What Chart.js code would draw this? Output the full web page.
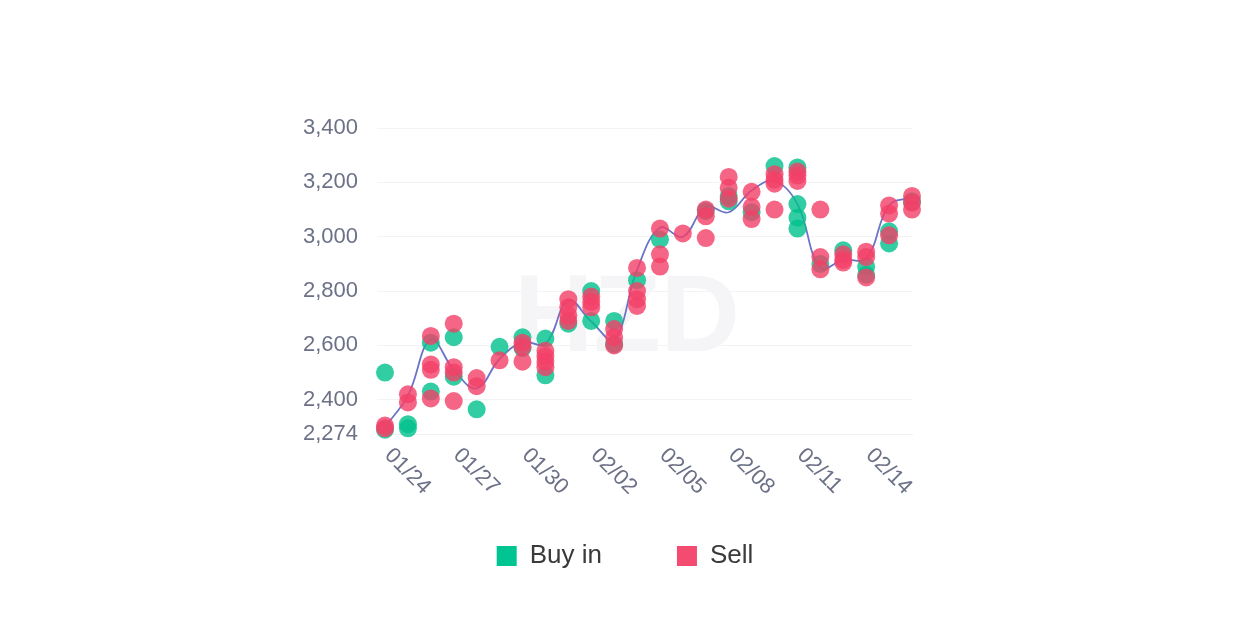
<!DOCTYPE html>
<html>
<head>
<meta charset="utf-8">
<title>Buy in / Sell</title>
<script src="https://cdn.jsdelivr.net/npm/chart.js@4.4.1/dist/chart.umd.min.js"></script>
<style>
  html, body { margin: 0; padding: 0; background: #fff; }
  .chart__container { width: 1254px; height: 641px; position: relative; }
</style>
</head>
<body>
<div class="chart__container"><canvas id="chart__1"></canvas></div>
<script>
"use strict";

// ** Data
const dates = [
  "01/24", "01/25", "01/26", "01/27", "01/28", "01/29", "01/30", "01/31",
  "02/01", "02/02", "02/03", "02/04", "02/05", "02/06", "02/07", "02/08",
  "02/09", "02/10", "02/11", "02/12", "02/13", "02/14", "02/15", "02/16",
];
const xTickLabels = ["01/24", "01/27", "01/30", "02/02", "02/05", "02/08", "02/11", "02/14"];
const yTicks = [2274, 2400, 2600, 2800, 3000, 3200, 3400];

// smoothed price line
const trend = [
  2300, 2415, 2622, 2510, 2442, 2550, 2612, 2606, 2765, 2688, 2622, 2878,
  3033, 3000, 3110, 3090, 3170, 3205, 3120, 2886, 2915, 2920, 3115, 3145,
];

// one row per day, several trades each
const buyIn = [
  [2500, 2290], [2310, 2295], [2610, 2430], [2630, 2485], [2365], [2595],
  [2630, 2590], [2625, 2490], [2680], [2800, 2690], [2690, 2605], [2840],
  [2990], [], [3095], [3150, 3130], [3090], [3260],
  [3255, 3120, 3070, 3030], [2900], [2950], [2890, 2860], [3020, 2975], [3130],
];
const sell = [
  [2305, 2295], [2420, 2390], [2635, 2530, 2510, 2405], [2680, 2520, 2500, 2395],
  [2480, 2450], [2545], [2610, 2595, 2540], [2580, 2560, 2540, 2520],
  [2770, 2740, 2710, 2690], [2780, 2760, 2740], [2660, 2630, 2600],
  [2885, 2800, 2770, 2745], [3030, 2935, 2890], [3012], [3100, 3075, 2995],
  [3220, 3180, 3140], [3165, 3110, 3065], [3230, 3210, 3195, 3100],
  [3240, 3225, 3205], [3100, 2925, 2880], [2935, 2915, 2905],
  [2945, 2925, 2850], [3115, 3085, 3005], [3150, 3125, 3100],
];

const FONT = '"Liberation Sans", Arial, sans-serif';
const AXIS_COLOR = "#6c7187";
const BUY_COLOR = "#00c492";
const SELL_COLOR = "#f34c70";

// ** Functions

function toPoints(rows) {
  const points = [];
  rows.forEach((values, i) => {
    values.forEach((v) => points.push({ x: dates[i], y: v }));
  });
  return points;
}

// faint watermark behind the marks
const watermark = {
  id: "watermark",
  beforeDatasetsDraw: (chart) => {
    const { ctx, width, height } = chart;
    ctx.save();
    ctx.fillStyle = "#f5f5f7";
    ctx.font = `bold 110px ${FONT}`;
    ctx.textAlign = "center";
    ctx.textBaseline = "middle";
    ctx.fillText("HZD", width / 2, height / 2);
    ctx.restore();
  },
};

// x labels slanting down to the right
const rotatedLabels = {
  id: "rotatedLabels",
  afterDraw: (chart) => {
    const { ctx, chartArea } = chart;
    const xScale = chart.scales.x;
    ctx.save();
    ctx.fillStyle = AXIS_COLOR;
    ctx.font = `22px ${FONT}`;
    ctx.textAlign = "left";
    ctx.textBaseline = "middle";
    xTickLabels.forEach((label) => {
      const px = xScale.getPixelForValue(dates.indexOf(label));
      ctx.save();
      ctx.translate(px + 3, chartArea.bottom + 18);
      ctx.rotate(Math.PI / 4);
      ctx.fillText(label, 0, 0);
      ctx.restore();
    });
    ctx.restore();
  },
};

const legendColors = [null, BUY_COLOR, SELL_COLOR];

const config = {
  type: "line",
  data: {
    labels: dates,
    datasets: [
      {
        label: "Trend",
        data: trend,
        borderColor: "#6b74c6",
        borderWidth: 1.8,
        tension: 0.4,
        pointRadius: 0,
        fill: false,
        order: 3,
      },
      {
        label: "Buy in",
        data: toPoints(buyIn),
        showLine: false,
        backgroundColor: "rgba(0, 192, 140, 0.8)",
        borderColor: "rgba(0, 192, 140, 0.8)",
        borderWidth: 0,
        pointRadius: 9,
        pointHoverRadius: 9,
        clip: false,
        order: 2,
      },
      {
        label: "Sell",
        data: toPoints(sell),
        showLine: false,
        backgroundColor: "rgba(242, 64, 104, 0.8)",
        borderColor: "rgba(242, 64, 104, 0.8)",
        borderWidth: 0,
        pointRadius: 9,
        pointHoverRadius: 9,
        clip: false,
        order: 1,
      },
    ],
  },
  options: {
    responsive: true,
    maintainAspectRatio: false,
    animation: false,
    events: [],
    layout: { padding: { left: 0, right: 4, top: 128, bottom: 62 } },
    scales: {
      x: {
        type: "category",
        offset: false,
        grid: { display: false },
        border: { display: true, color: "#eef0f4" },
        ticks: { display: false },
        afterFit: (scale) => {
          scale.height = 34;
        },
      },
      y: {
        position: "left",
        min: 2274,
        max: 3400,
        afterBuildTicks: (scale) => {
          scale.ticks = yTicks.map((v) => ({ value: v }));
        },
        afterFit: (scale) => {
          scale.width = 385;
        },
        grid: { color: "#f2f3f5", drawTicks: true, tickLength: 8 },
        border: { display: false },
        ticks: {
          padding: 19,
          color: AXIS_COLOR,
          font: { family: FONT, size: 22 },
          callback: (v) => Number(v).toLocaleString("en-US"),
        },
      },
      y2: {
        position: "right",
        grid: { display: false },
        border: { display: false },
        ticks: { display: false },
        afterFit: (scale) => {
          scale.width = 338;
        },
      },
    },
    plugins: {
      tooltip: { enabled: false },
      legend: {
        position: "bottom",
        labels: {
          boxWidth: 20,
          boxHeight: 20,
          padding: 75,
          color: "#3a3a3a",
          font: { family: FONT, size: 26 },
          filter: (item) => item.datasetIndex !== 0,
          sort: (a, b) => a.datasetIndex - b.datasetIndex,
          generateLabels: (chart) =>
            Chart.defaults.plugins.legend.labels.generateLabels(chart).map((item) => {
              if (legendColors[item.datasetIndex]) {
                item.fillStyle = legendColors[item.datasetIndex];
                item.strokeStyle = legendColors[item.datasetIndex];
              }
              item.lineWidth = 0;
              return item;
            }),
        },
      },
    },
  },
  plugins: [watermark, rotatedLabels],
};

const ctx = document.getElementById("chart__1").getContext("2d");
const chart = new Chart(ctx, config);
</script>
</body>
</html>
